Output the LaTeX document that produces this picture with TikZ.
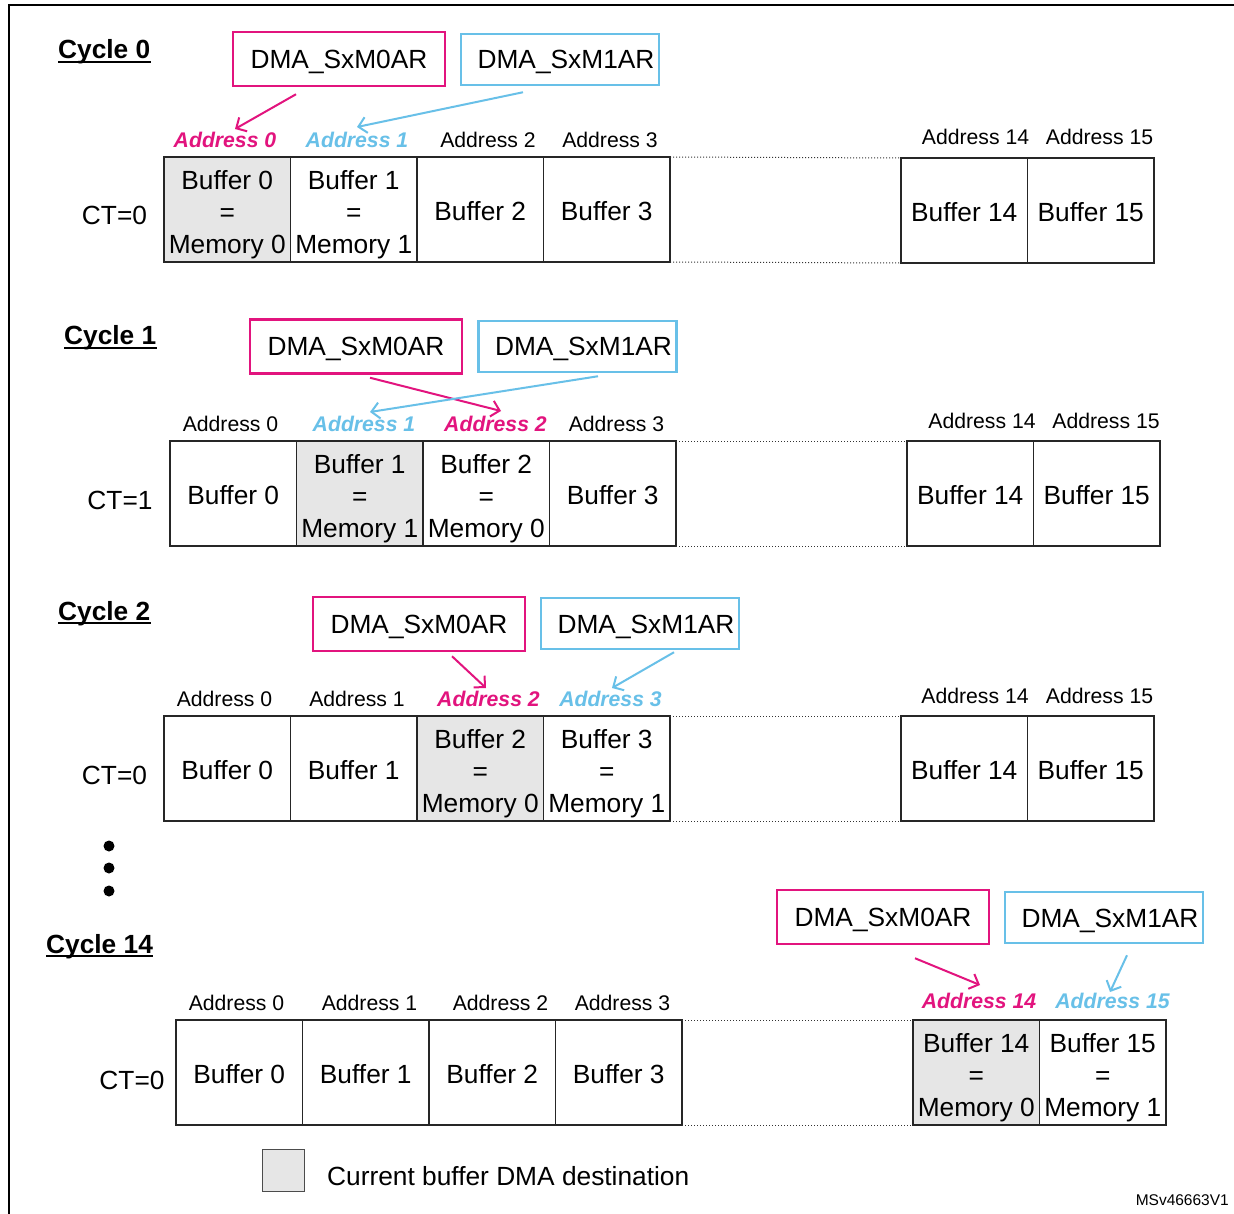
\documentclass[tikz,border=0pt]{standalone}
\usepackage{fontspec}
\setmainfont{Liberation Sans}
\usetikzlibrary{arrows.meta}
\definecolor{stmag}{RGB}{226,20,126}
\definecolor{stcyan}{RGB}{104,192,232}
\definecolor{curgray}{RGB}{230,230,230}
\newcommand\cellup{\rule{0pt}{29pt}}
\begin{document}
\begin{tikzpicture}[x=1pt,y=-1pt,
 cellbox/.style={draw=black!85, line width=1.3pt, minimum width=126.5pt, minimum height=105pt, inner sep=0pt, outer sep=0pt, align=center, font=\fontsize{26.3}{32}\selectfont},
 cell1/.style={cellbox, text height=22pt, text depth=0pt},
 cur/.style={cellbox, fill=curgray},
 addr/.style={inner sep=0pt, font=\fontsize{21.2}{24}\selectfont},
 addrM/.style={inner sep=0pt, text=stmag, font=\fontsize{21.2}{24}\selectfont\bfseries\itshape},
 addrC/.style={inner sep=0pt, text=stcyan, font=\fontsize{21.2}{24}\selectfont\bfseries\itshape},
 regM/.style={draw=stmag, line width=2.5pt, minimum width=212pt, minimum height=54pt, inner sep=0pt, text height=19pt, text depth=0pt, font=\fontsize{26.3}{30}\selectfont},
 regC/.style={draw=stcyan, line width=2.5pt, minimum width=198pt, minimum height=51pt, inner sep=0pt, text height=19pt, text depth=0pt, font=\fontsize{26.3}{30}\selectfont},
 magarr/.style={draw=stmag, line width=2pt, -{Straight Barb[length=8pt,width=16pt]}},
 cyanarr/.style={draw=stcyan, line width=2pt, -{Straight Barb[length=8pt,width=16pt]}},
 dotline/.style={line width=1pt, dotted, black!80},
 cyc/.style={inner sep=0pt, font=\fontsize{26.3}{30}\selectfont\bfseries, anchor=base west},
 uline/.style={line width=1.8pt},
 ctlab/.style={inner sep=0pt, font=\fontsize{26.3}{30}\selectfont},
]
\fill[white] (0,0) rectangle (1234,1214);
\useasboundingbox (0,0) rectangle (1234,1214);
\draw[line width=2.2pt] (9,1214) -- (9,5) -- (1234,5);

% ---------------- Cycle 0
\node[cyc] (t0) at (58,59) {Cycle 0};
\draw[uline] ([yshift=-3pt]t0.base west) -- ([yshift=-3pt]t0.base east);
\node[regM] (c0m0) at (339,59) {DMA\_SxM0AR};
\node[regC] (c0m1) at (560,59.5) {\hspace*{12pt}DMA\_SxM1AR};
\node[ctlab] (c0ct) at (114.5,215) {CT=0};
\begin{scope}[shift={(164,157)}]
\node[cur] (c0b0) at (63.25,52.5) {\cellup Buffer 0\\=\\Memory 0};
\node[cellbox] (c0b1) at (189.75,52.5) {\cellup Buffer 1\\=\\Memory 1};
\node[cell1] (c0b2) at (316.25,52.5) {Buffer 2};
\node[cell1] (c0b3) at (442.75,52.5) {Buffer 3};
\node[cell1] (c0b14) at (800.25,53.5) {Buffer 14};
\node[cell1] (c0b15) at (926.75,53.5) {Buffer 15};
\node[addrM] (c0a0) at (61,-17) {Address 0};
\node[addrC] (c0a1) at (193,-17) {Address 1};
\node[addr] (c0a2) at (324,-17) {Address 2};
\node[addr] (c0a3) at (446,-17) {Address 3};
\node[addr] (c0a14) at (811.5,-20) {Address 14};
\node[addr] (c0a15) at (935.5,-20) {Address 15};
\end{scope}
\draw[dotline] (c0b3.north east) -- (c0b14.north west);
\draw[dotline] (c0b3.south east) -- (c0b14.south west);
\draw[magarr] ([shift={(-43,7)}]c0m0.south) -- ([shift={(10,-11)}]c0a0.center);
\draw[cyanarr] ([shift={(-37,6)}]c0m1.south) -- ([shift={(0,-13)}]c0a1.center);

% ---------------- Cycle 1
\node[cyc] (t1) at (64,345) {Cycle 1};
\draw[uline] ([yshift=-3pt]t1.base west) -- ([yshift=-3pt]t1.base east);
\node[regM] (c1m0) at (356,346.5) {DMA\_SxM0AR};
\node[regC] (c1m1) at (577.5,346.5) {\hspace*{12pt}DMA\_SxM1AR};
\node[ctlab] (c1ct) at (120,500) {CT=1};
\begin{scope}[shift={(170,441)}]
\node[cell1] (c1b0) at (63.25,52.5) {Buffer 0};
\node[cur] (c1b1) at (189.75,52.5) {\cellup Buffer 1\\=\\Memory 1};
\node[cellbox] (c1b2) at (316.25,52.5) {\cellup Buffer 2\\=\\Memory 0};
\node[cell1] (c1b3) at (442.75,52.5) {Buffer 3};
\node[cell1] (c1b14) at (800.25,52.5) {Buffer 14};
\node[cell1] (c1b15) at (926.75,52.5) {Buffer 15};
\node[addr] (c1a0) at (60.5,-17) {Address 0};
\node[addrC] (c1a1) at (194,-17) {Address 1};
\node[addrM] (c1a2) at (325.5,-17) {Address 2};
\node[addr] (c1a3) at (446.5,-17) {Address 3};
\node[addr] (c1a14) at (812,-20) {Address 14};
\node[addr] (c1a15) at (936,-20) {Address 15};
\end{scope}
\draw[dotline] (c1b3.north east) -- (c1b14.north west);
\draw[dotline] (c1b3.south east) -- (c1b14.south west);
\draw[magarr] ([shift={(14,3)}]c1m0.south) -- ([shift={(5.5,-13)}]c1a2.center);
\draw[cyanarr] ([shift={(20.5,3)}]c1m1.south) -- ([shift={(6,-12)}]c1a1.center);

% ---------------- Cycle 2
\node[cyc] (t2) at (58,620) {Cycle 2};
\draw[uline] ([yshift=-3pt]t2.base west) -- ([yshift=-3pt]t2.base east);
\node[regM] (c2m0) at (419,624) {DMA\_SxM0AR};
\node[regC] (c2m1) at (640,623.5) {\hspace*{12pt}DMA\_SxM1AR};
\node[ctlab] (c2ct) at (114.5,775) {CT=0};
\begin{scope}[shift={(164,716)}]
\node[cell1] (c2b0) at (63.25,52.5) {Buffer 0};
\node[cell1] (c2b1) at (189.75,52.5) {Buffer 1};
\node[cur] (c2b2) at (316.25,52.5) {\cellup Buffer 2\\=\\Memory 0};
\node[cellbox] (c2b3) at (442.75,52.5) {\cellup Buffer 3\\=\\Memory 1};
\node[cell1] (c2b14) at (800.25,52.5) {Buffer 14};
\node[cell1] (c2b15) at (926.75,52.5) {Buffer 15};
\node[addr] (c2a0) at (60.5,-17) {Address 0};
\node[addr] (c2a1) at (193,-17) {Address 1};
\node[addrM] (c2a2) at (324.5,-17) {Address 2};
\node[addrC] (c2a3) at (446.5,-17) {Address 3};
\node[addr] (c2a14) at (811,-20) {Address 14};
\node[addr] (c2a15) at (935.5,-20) {Address 15};
\end{scope}
\draw[dotline] (c2b3.north east) -- (c2b14.north west);
\draw[dotline] (c2b3.south east) -- (c2b14.south west);
\draw[magarr] ([shift={(33,4)}]c2m0.south) -- ([shift={(-2.5,-11)}]c2a2.center);
\draw[cyanarr] ([shift={(34,2)}]c2m1.south) -- ([shift={(1.5,-11)}]c2a3.center);

% ---------------- dots
\fill (109,846) circle (5.5pt);
\fill (109,868) circle (5.5pt);
\fill (109,891) circle (5.5pt);

% ---------------- Cycle 14
\node[cyc] (t14) at (46,953) {Cycle 14};
\draw[uline] ([yshift=-3pt]t14.base west) -- ([yshift=-3pt]t14.base east);
\node[regM] (c14m0) at (883,917) {DMA\_SxM0AR};
\node[regC] (c14m1) at (1104,917.5) {\hspace*{12pt}DMA\_SxM1AR};
\node[ctlab] (c14ct) at (132,1080) {CT=0};
\begin{scope}[shift={(176,1020)}]
\node[cell1] (c14b0) at (63.25,52.5) {Buffer 0};
\node[cell1] (c14b1) at (189.75,52.5) {Buffer 1};
\node[cell1] (c14b2) at (316.25,52.5) {Buffer 2};
\node[cell1] (c14b3) at (442.75,52.5) {Buffer 3};
\node[cur] (c14b14) at (800.25,52.5) {\cellup Buffer 14\\=\\Memory 0};
\node[cellbox] (c14b15) at (926.75,52.5) {\cellup Buffer 15\\=\\Memory 1};
\node[addr] (c14a0) at (60.5,-17) {Address 0};
\node[addr] (c14a1) at (193.5,-17) {Address 1};
\node[addr] (c14a2) at (324.5,-17) {Address 2};
\node[addr] (c14a3) at (446.5,-17) {Address 3};
\node[addrM] (c14a14) at (803,-19) {Address 14};
\node[addrC] (c14a15) at (936.5,-19) {Address 15};
\end{scope}
\draw[dotline] (c14b3.north east) -- (c14b14.north west);
\draw[dotline] (c14b3.south east) -- (c14b14.south west);
\draw[magarr] ([shift={(32,13)}]c14m0.south) -- ([shift={(1,-16)}]c14a14.center);
\draw[cyanarr] ([shift={(23,11)}]c14m1.south) -- ([shift={(-2.5,-9)}]c14a15.center);

% ---------------- legend
\node[draw=black!70, line width=1pt, fill=curgray, minimum width=42pt, minimum height=42pt, inner sep=0pt] (legbox) at (283,1170) {};
\node[anchor=west, inner sep=0pt, font=\fontsize{26.3}{30}\selectfont] (legtext) at (327,1176) {Current buffer DMA destination};
\node[anchor=east, inner sep=0pt, font=\fontsize{15.5}{18}\selectfont] (msv) at (1229,1200) {MSv46663V1};
\end{tikzpicture}
\end{document}
